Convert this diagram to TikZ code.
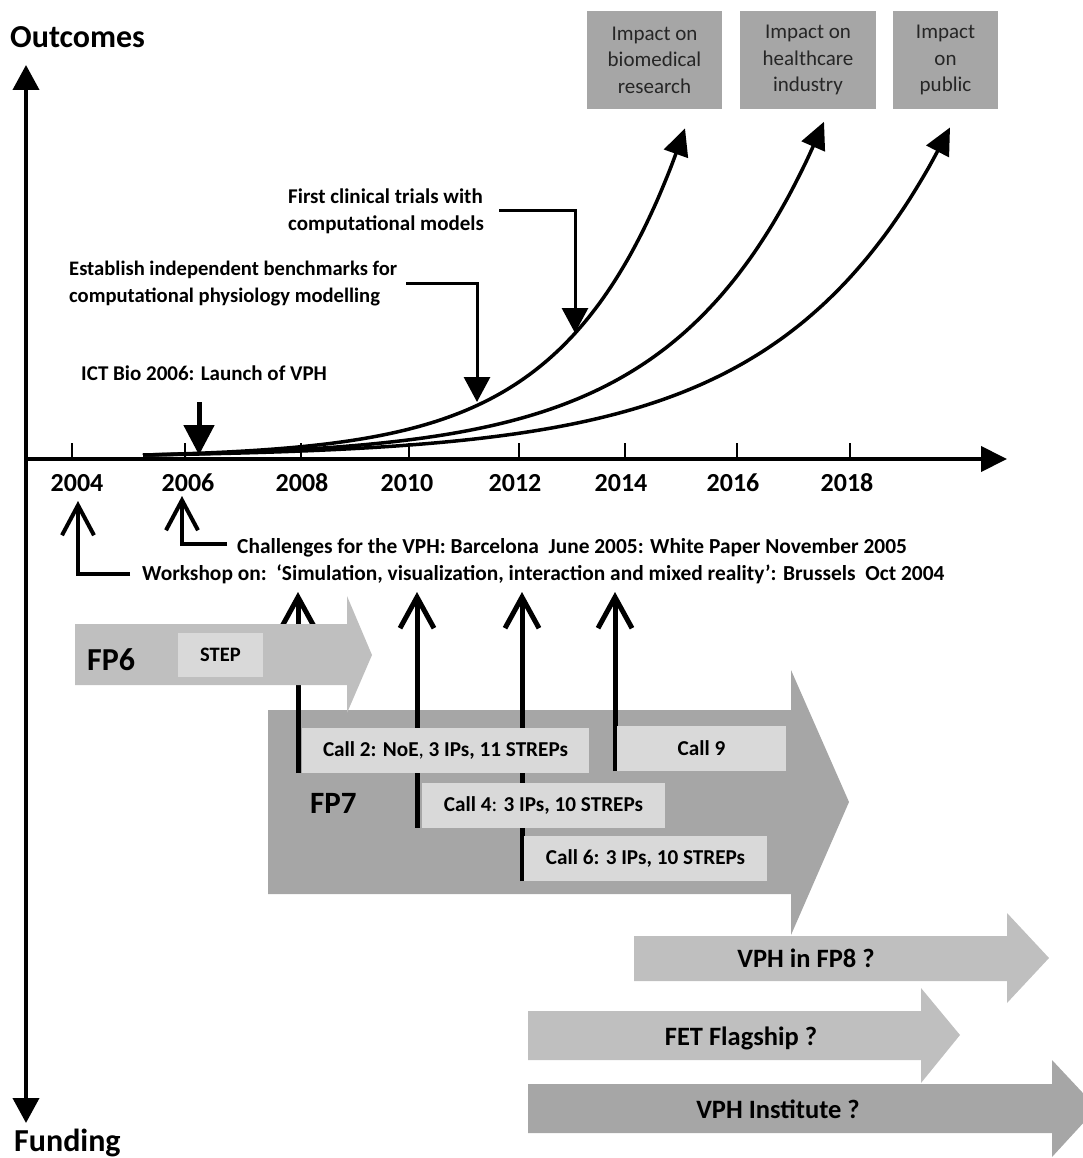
\documentclass[tikz,border=0pt]{standalone}
\usepackage{fontspec}
\setmainfont{Carlito}
\usepackage{tikz}
\usetikzlibrary{arrows.meta}

\pgfdeclarelayer{back}
\pgfsetlayers{back,main}

\definecolor{palegrey}{gray}{0.85}
\definecolor{lightgrey}{gray}{0.75}
\definecolor{midgrey}{gray}{0.65}

\tikzset{
  note/.style={font=\fontsize{21}{27}\selectfont\bfseries, align=left, inner sep=0pt, anchor=base west},
  lownote/.style={note, font=\fontsize{21.4}{27}\selectfont\bfseries},
  year/.style={font=\fontsize{26}{30}\selectfont\bfseries, inner sep=0pt, anchor=base},
  axislabel/.style={font=\fontsize{32}{36}\selectfont\bfseries, inner sep=0pt, anchor=base west},
  fplabel/.style={font=\fontsize{31}{34}\selectfont\bfseries, inner sep=0pt, anchor=base west},
  bigtext/.style={font=\fontsize{26.5}{30}\selectfont\bfseries, inner sep=0pt, anchor=base},
  impactbox/.style={fill=midgrey, minimum height=98pt, inner sep=0pt, align=center, text=black!85, font=\fontsize{21}{26.5}\selectfont},
  callbox/.style={fill=palegrey, minimum height=45pt, inner sep=0pt, font=\fontsize{21.2}{24}\selectfont\bfseries},
  axisline/.style={line width=4pt},
  growth/.style={line width=3.5pt, -{Triangle[length=27pt,width=25pt]}},
  elbowarrow/.style={line width=3pt, -{Triangle[length=25pt,width=26pt]}},
  openarrow/.style={line width=5pt, -{Straight Barb[length=31pt,width=34pt]}},
  thinopen/.style={line width=4pt, -{Straight Barb[length=30pt,width=32pt]}},
}

\begin{document}
\begin{tikzpicture}[x=1pt, y=-1pt]
\useasboundingbox (0,0) rectangle (1083,1158);

% axes
\coordinate (origin) at (26,459);
\coordinate (ytop) at (26,65);
\coordinate (ybot) at (26,1123);
\coordinate (xend) at (1007,459);
\draw[axisline, {Triangle[length=25pt,width=26pt]}-{Triangle[length=25pt,width=26pt]}] (ybot) -- (ytop);
\draw[axisline, -{Triangle[length=26pt,width=25pt]}] (origin) -- (xend);
\node[axislabel] (outcomes) at (10,48) {Outcomes};
\node[axislabel] (funding) at (14,1151) {Funding};

\foreach \yr/\tx/\lx in {2004/72/77, 2006/185/188, 2008/301/302, 2010/409/407, 2012/519/515, 2014/625/621, 2016/737/733, 2018/850/847}{
  \draw[line width=2.5pt] (\tx,443) -- (\tx,459);
  \node[year] (y\yr) at (\lx,491) {\yr};
}

% growth curves
\draw[growth] plot[domain=143:685, samples=40, smooth] (\x,{455-2.72*(exp((\x-143)/113)-1)});
\draw[growth] plot[domain=143:824, samples=40, smooth] (\x,{455-2.73*(exp((\x-143)/141.5)-1)});
\draw[growth] plot[domain=143:950, samples=40, smooth] (\x,{455-2.48*(exp((\x-143)/165)-1)});

% impact boxes
\node[impactbox, minimum width=135pt] (imp1) at (654.5,60) {Impact on\\biomedical\\research};
\node[impactbox, minimum width=136pt] (imp2) at (808,60) {Impact on\\healthcare\\industry};
\node[impactbox, minimum width=105pt] (imp3) at (945.5,60) {Impact\\on\\public};

% milestones above the axis
\node[note] (ict) at (81,380) {ICT Bio 2006: Launch of VPH};
\coordinate (ictfrom) at (199,402);
\coordinate (ictto) at (199,455);
\draw[line width=5pt, -{Triangle[length=30pt,width=30pt]}] (ictfrom) -- (ictto);

\node[note, font=\fontsize{20.6}{27}\selectfont\bfseries] (bench) at (69,302) {Establish independent benchmarks for\\computational physiology modelling};
\coordinate (benchtip) at (477,402);
\draw[elbowarrow] ([xshift=9pt]bench.east) -| (benchtip);

\node[note] (trials) at (288,230) {First clinical trials with\\computational models};
\coordinate (trialstip) at (575,333);
\draw[elbowarrow] ([xshift=15pt]trials.east) -| (trialstip);

% early events below the axis
\node[lownote] (challenges) at (237,553) {Challenges for the VPH: Barcelona\ \ June 2005: White Paper November 2005};
\node[lownote] (workshop) at (142,580) {Workshop on:\ \ ‘Simulation, visualization, interaction and mixed reality’: Brussels\ \ Oct 2004};
\coordinate (t04) at (78,501);
\coordinate (t06) at (182,496);
\draw[thinopen] ([xshift=-10pt,yshift=3pt]challenges.west) -| (t06);
\draw[thinopen] ([xshift=-12pt]workshop.west) -| (t04);

% FP6
\fill[lightgrey] (75,624) -- (347,624) -- (347,596) -- (372,655) -- (347,713) -- (347,685) -- (75,685) -- cycle;
\node[fplabel, font=\fontsize{32}{34}\selectfont\bfseries] (fp6) at (87,670) {FP6};
\node[callbox, minimum width=85pt, minimum height=44pt, font=\fontsize{20.5}{22}\selectfont\bfseries] (stepbox6) at (220.5,655) {STEP};

% FP7 calls
\node[fplabel] (fp7) at (310,813) {FP7};
\node[callbox, minimum width=287pt] (call2) at (445.5,750.5) {Call 2: NoE{\mdseries ,} 3 IPs, 11 STREPs};
\node[callbox, minimum width=169pt] (call9) at (701.5,748.5) {Call 9};
\node[callbox, minimum width=243pt] (call4) at (543.5,805) {Call 4{\mdseries :} 3 IPs, 10 STREPs};
\node[callbox, minimum width=243pt] (call6) at (645.5,858.5) {Call 6: 3 IPs, 10 STREPs};
\coordinate (t08) at (298,592);
\coordinate (t10) at (417,592);
\coordinate (t12) at (522,592);
\coordinate (t14) at (615,592);

\begin{pgfonlayer}{back}
\fill[midgrey] (268,710) -- (791,710) -- (791,670) -- (849,802) -- (791,935) -- (791,894) -- (268,894) -- cycle;
\draw[openarrow] (call2.south west -| t08) -- (t08);
\draw[openarrow] (call4.south west -| t10) -- (t10);
\draw[openarrow] (call6.south west -| t12) -- (t12);
\draw[openarrow] (call9.south west -| t14) -- (t14);
\end{pgfonlayer}

% future funding
\fill[lightgrey] (634,936) -- (1007,936) -- (1007,913) -- (1049,958) -- (1007,1003) -- (1007,981) -- (634,981) -- cycle;
\node[bigtext] (fp8) at (806,967) {VPH in FP8 ?};
\fill[lightgrey] (528,1011) -- (921,1011) -- (921,988) -- (960,1035) -- (921,1083) -- (921,1060) -- (528,1060) -- cycle;
\node[bigtext] (fet) at (741,1045) {FET Flagship ?};
\fill[midgrey] (528,1084) -- (1052,1084) -- (1052,1060) -- (1097,1108) -- (1052,1157) -- (1052,1133) -- (528,1133) -- cycle;
\node[bigtext] (inst) at (778,1118) {VPH Institute ?};
\end{tikzpicture}
\end{document}
